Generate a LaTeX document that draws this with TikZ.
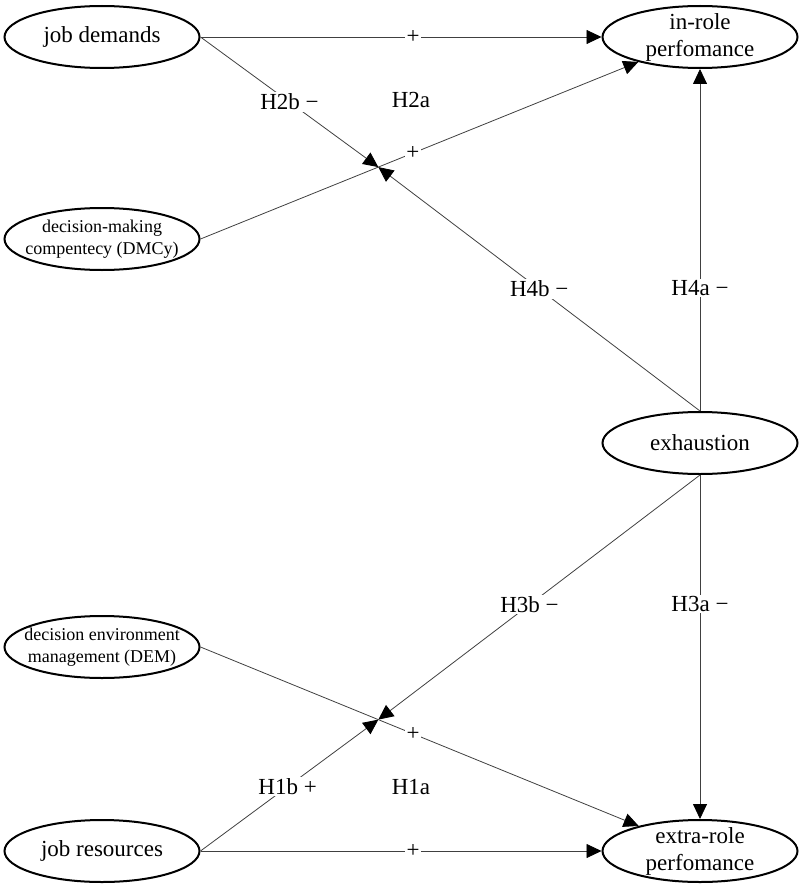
\documentclass[tikz,border=0pt]{standalone}
\usepackage{fontspec}
\setmainfont{Liberation Serif}
\usetikzlibrary{shapes.geometric,arrows.meta,calc}
\begin{document}
\begin{tikzpicture}[x=1pt,y=-1pt,
  ell/.style={ellipse,draw,line width=2pt,minimum width=195pt,minimum height=62pt,inner sep=0pt},
  bigtxt/.style={font=\fontsize{23}{27}\selectfont,align=center,inner sep=0pt},
  smalltxt/.style={font=\fontsize{18}{22}\selectfont,align=center,inner sep=0pt},
  conn/.style={draw=black!75,line width=0.8pt,-{Triangle[length=15pt,width=14pt,fill=black,color=black]}},
  lab/.style={fill=white,font=\fontsize{23}{27}\selectfont,inner sep=1.5pt},
  freelab/.style={font=\fontsize{23}{27}\selectfont,inner sep=1.5pt},
]
\useasboundingbox (0,0) rectangle (800,888);
% ellipses
\node[ell] (jd) at (102,37) {};
\node[ell] (ir) at (700,37) {};
\node[ell] (dmcy) at (102,239) {};
\node[ell] (ex) at (700,443) {};
\node[ell] (dem) at (102,647) {};
\node[ell] (jr) at (102,851) {};
\node[ell] (er) at (700,851) {};
% texts
\node[bigtxt] (jdt) at (jd) {job demands};
\node[bigtxt] (irt) at (ir) {in-role\\perfomance};
\node[smalltxt] (dmcyt) at (dmcy) {decision-making\\compentecy (DMCy)};
\node[bigtxt] (ext) at (ex) {exhaustion};
\node[smalltxt] (demt) at (dem) {decision environment\\management (DEM)};
\node[bigtxt] (jrt) at (jr) {job resources};
\node[bigtxt] (ert) at (er) {extra-role\\perfomance};
% crossing points
\coordinate (m2) at ($(dmcy.east)!0.356!(ir.center)$);
\coordinate (m1) at ($(dem.east)!0.356!(er.center)$);
% connectors
\draw[conn] (jd.east) -- node[lab,pos=0.53] (l1) {+} (ir.west);
\draw[conn] (dmcy.east) -- node[lab,pos=0.485] (l2) {+} (ir);
\draw[conn] (jd.east) -- node[lab,pos=0.5] (l3) {H2b −} (m2);
\draw[conn] (ex.north) -- node[lab,pos=0.5] (l4) {H4b −} (m2);
\draw[conn] (ex.north) -- node[lab,pos=0.36] (l5) {H4a −} (ir.south);
\draw[conn] (ex.south) -- node[lab,pos=0.53] (l6) {H3b −} (m1);
\draw[conn] (ex.south) -- node[lab,pos=0.375] (l7) {H3a −} (er.north);
\draw[conn] (dem.east) -- node[lab,pos=0.485] (l8) {+} (er);
\draw[conn] (jr.east) -- node[lab,pos=0.49] (l9) {H1b +} (m1);
\draw[conn] (jr.east) -- node[lab,pos=0.53] (l10) {+} (er.west);
% free labels
\node[freelab] (h2a) at (411,100) {H2a};
\node[freelab] (h1a) at (411,787) {H1a};
\end{tikzpicture}
\end{document}
